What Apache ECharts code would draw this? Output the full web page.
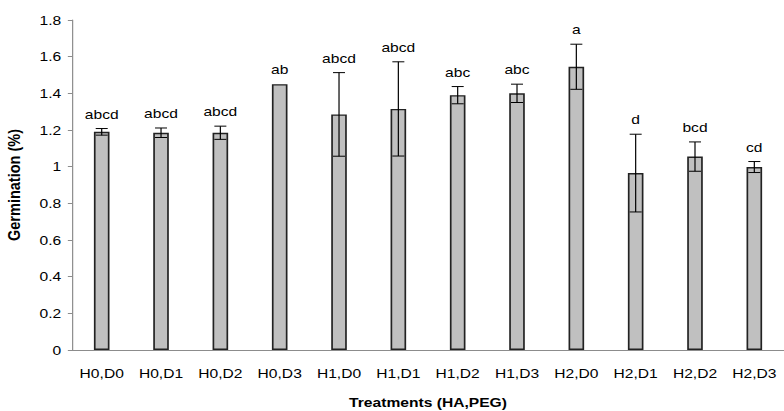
<!DOCTYPE html>
<html>
<head>
<meta charset="utf-8">
<script src="https://cdn.jsdelivr.net/npm/echarts@6/dist/echarts.min.js"></script>
<style>
  html, body { margin: 0; padding: 0; background: #fff; overflow: hidden; }
  /* The chart is laid out on a narrower canvas and widened to the page,
     which gives the stretched Excel-style lettering. */
  #chart { width: 653px; height: 411px; transform: scaleX(1.2006); transform-origin: 0 0; }
</style>
</head>
<body>
<div id="chart"></div>
<script>
// Treatment combinations (humic acid level, PEG level)
const categories = ['H0,D0', 'H0,D1', 'H0,D2', 'H0,D3', 'H1,D0', 'H1,D1', 'H1,D2', 'H1,D3', 'H2,D0', 'H2,D1', 'H2,D2', 'H2,D3'];
// Mean germination
const germination = [1.19, 1.185, 1.185, 1.45, 1.285, 1.315, 1.39, 1.40, 1.545, 0.965, 1.055, 0.998];
// Standard error of each mean
const stdError = [0.018, 0.026, 0.036, 0, 0.228, 0.257, 0.047, 0.05, 0.123, 0.212, 0.08, 0.03];
// Significance letters from mean separation
const letters = ['abcd', 'abcd', 'abcd', 'ab', 'abcd', 'abcd', 'abc', 'abc', 'a', 'd', 'bcd', 'cd'];
// Y-axis ticks
const yMin = 0, yMax = 1.8, yStep = 0.2;

const FONT = '"Liberation Sans", Arial, sans-serif';

const errData = categories.map((c, i) => [i, germination[i], stdError[i]]);

const chart = echarts.init(document.getElementById('chart'), null, { renderer: 'svg' });

chart.setOption({
  animation: false,
  backgroundColor: '#ffffff',
  grid: { left: 60, right: 0, top: 20, bottom: 61, containLabel: false, outerBoundsMode: 'none' },
  xAxis: {
    type: 'category',
    data: categories,
    name: 'Treatments (HA,PEG)',
    nameLocation: 'middle',
    nameGap: 46,
    nameTextStyle: { fontFamily: FONT, fontSize: 13, fontWeight: 'bold', color: '#000' },
    axisLine: { lineStyle: { color: '#8c8c8c', width: 1 } },
    axisTick: { show: false },
    axisLabel: { fontFamily: FONT, fontSize: 13, color: '#000', margin: 17, interval: 0 },
    splitLine: { show: false }
  },
  yAxis: {
    type: 'value',
    min: yMin, max: yMax, interval: yStep,
    name: 'Germination (%)',
    nameLocation: 'middle',
    nameGap: 41,
    nameRotate: 90,
    nameTextStyle: { fontFamily: FONT, fontSize: 14.5, fontWeight: 'bold', color: '#000' },
    axisLine: { show: true, lineStyle: { color: '#8c8c8c', width: 1 } },
    axisTick: { show: true, length: 3.5, lineStyle: { color: '#8c8c8c' } },
    axisLabel: { fontFamily: FONT, fontSize: 13, color: '#000', margin: 9 },
    splitLine: { show: false }
  },
  series: [
    {
      type: 'bar',
      data: germination,
      barWidth: 13,
      itemStyle: { color: '#c0c0c0', borderColor: '#222222', borderWidth: 1.4 },
      z: 2
    },
    {
      type: 'custom',
      data: errData,
      z: 3,
      renderItem: function (params, api) {
        const i = api.value(0);
        const mean = api.value(1);
        const se = api.value(2);
        const top = api.coord([i, mean + se]);
        const bot = api.coord([i, mean - se]);
        const x = top[0];
        const cap = 5;
        const children = [];
        if (se > 0) {
          const st = { stroke: '#000', lineWidth: 1 };
          children.push(
            { type: 'line', shape: { x1: x, y1: top[1], x2: x, y2: bot[1] }, style: st },
            { type: 'line', shape: { x1: x - cap, y1: top[1], x2: x + cap, y2: top[1] }, style: st },
            { type: 'line', shape: { x1: x - cap, y1: bot[1], x2: x + cap, y2: bot[1] }, style: st }
          );
        }
        children.push({
          type: 'text',
          style: {
            x: x, y: top[1] - 8,
            text: letters[params.dataIndex],
            fill: '#000',
            font: '13px ' + FONT,
            textAlign: 'center',
            textVerticalAlign: 'bottom'
          }
        });
        return { type: 'group', children: children };
      }
    }
  ]
});
</script>
</body>
</html>
